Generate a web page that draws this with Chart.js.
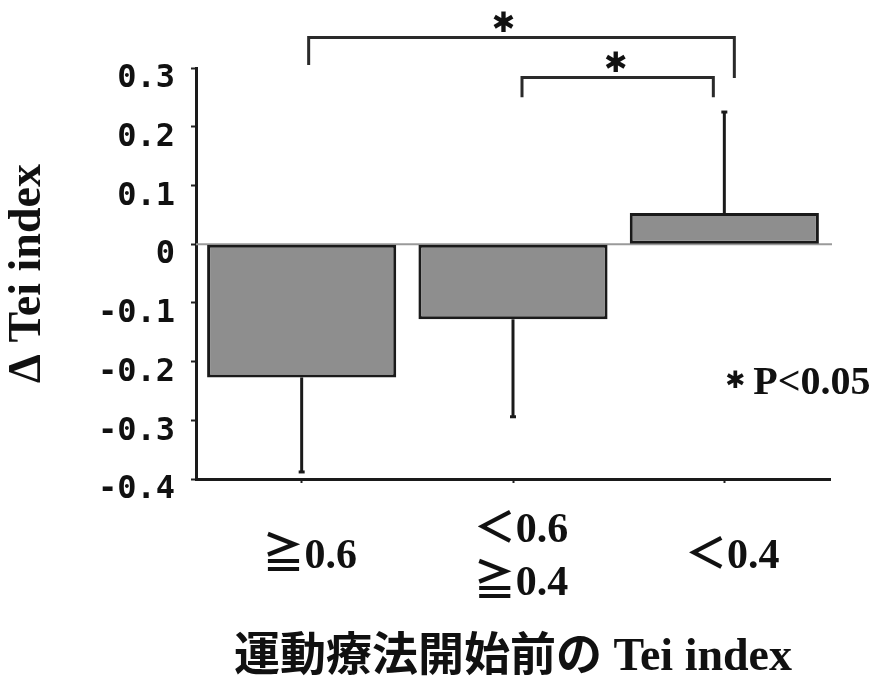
<!DOCTYPE html>
<html>
<head>
<meta charset="utf-8">
<script src="https://cdn.jsdelivr.net/npm/chart.js@4/dist/chart.umd.min.js"></script>
<style>
  html, body { margin: 0; padding: 0; background: #ffffff; }
  #wrap { width: 872px; height: 688px; position: relative; }
</style>
</head>
<body>
<div id="wrap"><canvas id="c" width="872" height="688"></canvas></div>
<script>
// ---- data ----
const categories = ['≧0.6', ['＜0.6', '≧0.4'], '＜0.4'];
const meanChange = [-0.227, -0.128, 0.053];     // ΔTei index (mean)
const sdChange   = [0.161, 0.166, 0.172];       // one-sided error bar (SD)
const yTicks     = [0.3, 0.2, 0.1, 0, -0.1, -0.2, -0.3, -0.4];
const yTitle     = 'Δ Tei index';
const xTitle     = '運動療法開始前の Tei index';
const sigNote    = 'P<0.05';
// significance brackets: [fromIndex, toIndex, topValue, leftLegEnd, rightLegEnd]
const brackets = [
  [0, 2, 0.352, 0.305, 0.283],
  [1, 2, 0.284, 0.250, 0.250]
];

const serifFam = '"Liberation Serif", "Times New Roman", "Noto Sans CJK JP", serif';

const overlay = {
  id: 'overlay',
  beforeDatasetsDraw(chart) {
    const {ctx, scales: {x, y}, chartArea} = chart;
    const y0 = y.getPixelForValue(0);
    ctx.save();
    ctx.strokeStyle = '#9a9a9a';
    ctx.lineWidth = 2;
    ctx.beginPath();
    ctx.moveTo(chartArea.left, y0);
    ctx.lineTo(chartArea.right + 2, y0);
    ctx.stroke();
    ctx.restore();
  },
  afterDatasetsDraw(chart) {
    const {ctx, scales: {x, y}} = chart;
    ctx.save();
    ctx.strokeStyle = '#1a1a1a';
    ctx.lineWidth = 3;
    meanChange.forEach((m, i) => {
      const px = x.getPixelForValue(i);
      const end = m < 0 ? m - sdChange[i] : m + sdChange[i];
      const p1 = y.getPixelForValue(m);
      const p2 = y.getPixelForValue(end);
      ctx.beginPath();
      ctx.moveTo(px, p1);
      ctx.lineTo(px, p2);
      ctx.stroke();
      ctx.beginPath();
      ctx.moveTo(px - 3, p2);
      ctx.lineTo(px + 3, p2);
      ctx.stroke();
    });
    ctx.strokeStyle = '#2a2a2a';
    ctx.lineWidth = 3;
    const legOff = [[7, 10], [9, -11]];
    brackets.forEach((b, k) => {
      const xl = x.getPixelForValue(b[0]) + legOff[k][0];
      const xr = x.getPixelForValue(b[1]) + legOff[k][1];
      const yt = y.getPixelForValue(b[2]);
      const yl = y.getPixelForValue(b[3]);
      const yr = y.getPixelForValue(b[4]);
      ctx.beginPath();
      ctx.moveTo(xl, yl);
      ctx.lineTo(xl, yt);
      ctx.lineTo(xr, yt);
      ctx.lineTo(xr, yr);
      ctx.stroke();
      ctx.fillStyle = '#111';
      ctx.font = 'bold 28px "DejaVu Sans"';
      ctx.textAlign = 'center';
      ctx.textBaseline = 'middle';
      ctx.fillText('✱', (xl + xr) / 2 - (k === 0 ? 18 : 2), yt - 13);
    });
    const nx = x.getPixelForValue(2);
    const ny = y.getPixelForValue(-0.237);
    ctx.fillStyle = '#111';
    ctx.textBaseline = 'middle';
    ctx.textAlign = 'center';
    ctx.font = 'bold 24px "DejaVu Sans"';
    ctx.fillText('✱', nx + 11, ny - 2);
    ctx.textAlign = 'left';
    ctx.font = 'bold 40px ' + serifFam;
    ctx.fillText(sigNote, nx + 29, ny);
    ctx.restore();
  }
};

new Chart(document.getElementById('c'), {
  type: 'bar',
  data: {
    labels: categories,
    datasets: [{
      data: meanChange,
      backgroundColor: '#8e8e8e',
      borderColor: '#1a1a1a',
      borderWidth: 3,
      borderSkipped: false,
      categoryPercentage: 1.0,
      barPercentage: 0.895
    }]
  },
  options: {
    responsive: false,
    animation: false,
    devicePixelRatio: 1,
    layout: { padding: { top: 68, right: 42, bottom: 0, left: 0 } },
    plugins: { legend: { display: false }, tooltip: { enabled: false } },
    scales: {
      x: {
        afterFit(scale) { scale.height = 209; },
        grid: { display: true, drawOnChartArea: false, offset: false, tickLength: 4, tickColor: '#222', tickWidth: 2 },
        border: { display: true, color: '#1a1a1a', width: 3 },
        ticks: {
          color: '#111',
          font: { family: serifFam, size: 42, weight: 'bold', lineHeight: 1.26 },
          padding: 48,
          labelOffset: 8,
          crossAlign: 'center',
          maxRotation: 0,
          autoSkip: false
        },
        title: {
          display: true,
          text: xTitle,
          color: '#111',
          font: { family: serifFam, size: 46, weight: 'bold', lineHeight: 1.2 },
          padding: { top: 0, bottom: 2 }
        }
      },
      y: {
        min: -0.4,
        max: 0.3,
        afterFit(scale) { scale.width = 196; },
        afterBuildTicks(scale) { scale.ticks = yTicks.map(v => ({ value: v })); },
        grid: { display: true, drawOnChartArea: false, tickLength: 5, tickColor: '#222', tickWidth: 2 },
        border: { display: true, color: '#1a1a1a', width: 3 },
        ticks: {
          color: '#111',
          font: { family: '"DejaVu Sans Mono", "Liberation Mono", monospace', size: 32, weight: 'bold' },
          padding: 16,
          labelOffset: 11,
          callback: (v) => (Math.round(v * 10) / 10).toString()
        },
        title: {
          display: true,
          text: yTitle,
          color: '#111',
          font: { family: serifFam, size: 46, weight: 'bold', lineHeight: 1.2 },
          padding: { top: 1, bottom: 0 }
        }
      }
    }
  },
  plugins: [overlay]
});
</script>
</body>
</html>
